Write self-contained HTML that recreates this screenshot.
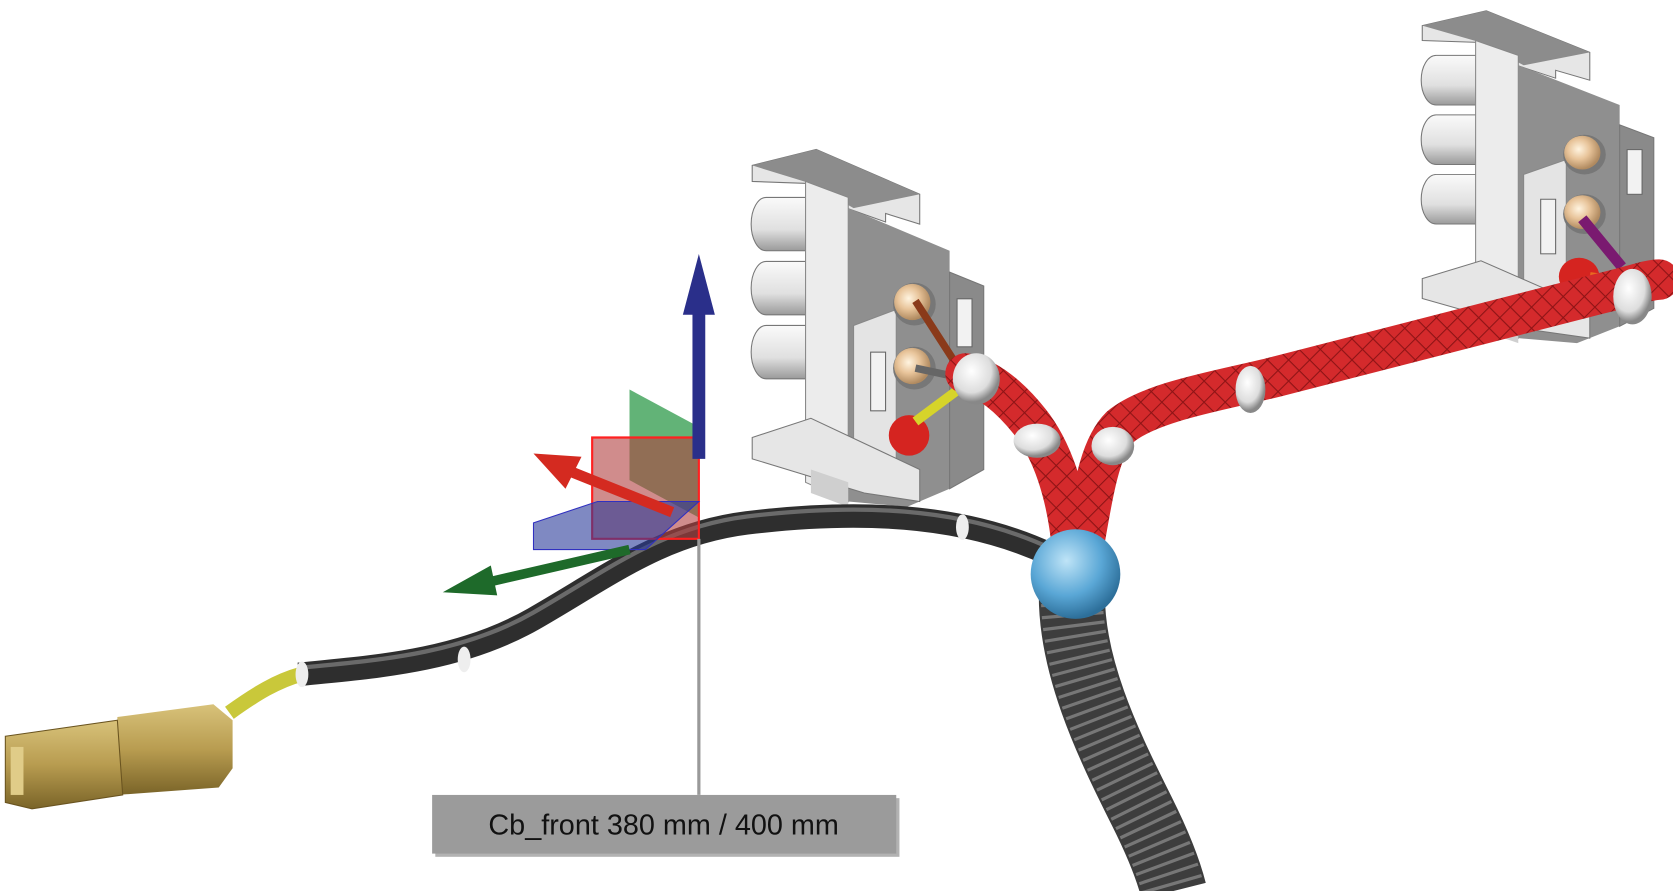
<!DOCTYPE html>
<html><head><meta charset="utf-8"><style>
html,body{margin:0;padding:0;background:#fff;width:1673px;height:891px;overflow:hidden}
svg{display:block}
</style></head><body>
<svg width="1673" height="891" viewBox="0 0 1568 835" xmlns="http://www.w3.org/2000/svg">
<defs>
<linearGradient id="cyl" x1="0" y1="0" x2="0" y2="1"><stop offset="0" stop-color="#fafafa"/><stop offset="0.6" stop-color="#e0e0e0"/><stop offset="1" stop-color="#9a9a9a"/></linearGradient>
<radialGradient id="pin" cx="0.4" cy="0.4" r="0.6"><stop offset="0" stop-color="#fff4e0"/><stop offset="0.5" stop-color="#e8c49a"/><stop offset="1" stop-color="#b08a60"/></radialGradient>
<radialGradient id="ball" cx="0.4" cy="0.35" r="0.65"><stop offset="0" stop-color="#bfe4f7"/><stop offset="0.6" stop-color="#5aa7d6"/><stop offset="1" stop-color="#2d6f9a"/></radialGradient>
<radialGradient id="ring" cx="0.4" cy="0.35" r="0.6"><stop offset="0" stop-color="#fff"/><stop offset="0.7" stop-color="#ddd"/><stop offset="1" stop-color="#888"/></radialGradient>
<linearGradient id="gold" x1="0" y1="0" x2="0" y2="1"><stop offset="0" stop-color="#d8c27a"/><stop offset="0.5" stop-color="#b89c50"/><stop offset="1" stop-color="#7a6428"/></linearGradient>
<pattern id="braid" width="14" height="14" patternUnits="userSpaceOnUse" patternTransform="rotate(45)"><rect width="14" height="14" fill="#d42a2c"/><path d="M0 0H14M0 0V14" stroke="#8e1416" stroke-width="2"/></pattern>
<g id="conn">
  <g fill="url(#cyl)" stroke="#777" stroke-width="1">
    <path d="M70 45 H18 a14 25 0 0 0 0 50 H70Z"/>
    <path d="M70 105 H18 a14 25 0 0 0 0 50 H70Z"/>
    <path d="M70 165 H18 a14 25 0 0 0 0 50 H70Z"/>
  </g>
  <polygon points="5,15 65,0 162,42 162,70 130,60 130,68 85,52 60,40 60,32 5,30" fill="#e6e6e6" stroke="#777"/>
  <polygon points="5,15 65,0 162,42 100,55 60,32" fill="#8c8c8c"/>
  <polygon points="55,30 95,45 95,330 55,312" fill="#ececec" stroke="#888"/>
  <polygon points="95,55 190,95 190,318 150,335 95,330" fill="#8f8f8f"/>
  <polygon points="190,115 222,128 222,300 190,318" fill="#8a8a8a" stroke="#777"/>
  <polygon points="100,165 140,150 140,310 100,318" fill="#e4e4e4" stroke="#888"/>
  <rect x="116" y="190" width="14" height="55" fill="#f2f2f2" stroke="#666"/>
  <rect x="197" y="140" width="14" height="45" fill="#f2f2f2" stroke="#666"/>
  <polygon points="5,270 60,252 162,300 162,330 110,322 5,290" fill="#e6e6e6" stroke="#777"/>
  <polygon points="60,300 95,312 95,335 60,322" fill="#cfcfcf"/>
  <circle cx="157" cy="145" r="20" fill="#777"/>
  <circle cx="155" cy="143" r="17" fill="url(#pin)"/>
  <circle cx="157" cy="205" r="20" fill="#777"/>
  <circle cx="155" cy="203" r="17" fill="url(#pin)"/>
  <circle cx="152" cy="268" r="19" fill="#d52420"/>
</g>
</defs>

<!-- left connector -->
<use href="#conn" transform="translate(700,140)"/>
<!-- right connector -->
<use href="#conn" transform="translate(1328,10) scale(1,0.93)"/>

<!-- wires into left connector -->
<path d="M858 282 L905 355" stroke="#8a3a1a" stroke-width="7"/>
<path d="M858 345 L905 355" stroke="#666" stroke-width="7"/>
<path d="M858 395 L905 360" stroke="#d6d42a" stroke-width="9"/>
<!-- wires into right connector -->
<path d="M1483 205 L1520 250" stroke="#7a1a70" stroke-width="10"/>
<path d="M1490 260 L1525 265" stroke="#e86a20" stroke-width="10"/>

<!-- corrugated tube -->
<path d="M1005 545 C1000 620 1040 700 1070 760 C1085 790 1095 815 1100 835" stroke="#3d3d3d" stroke-width="62" fill="none"/>
<path d="M1005 545 C1000 620 1040 700 1070 760 C1085 790 1095 815 1100 835" stroke="#777" stroke-width="58" fill="none" stroke-dasharray="3 7"/>

<!-- red braided branches -->
<path d="M1005 515 C1000 460 985 420 965 395 C945 370 925 355 905 350" stroke="url(#braid)" stroke-width="38" fill="none" stroke-linecap="round"/>
<path d="M1015 515 C1025 460 1030 420 1050 400 C1080 375 1150 365 1200 352 L1500 275 C1530 268 1545 262 1555 262" stroke="url(#braid)" stroke-width="38" fill="none" stroke-linecap="round"/>

<!-- rings -->
<ellipse cx="915" cy="355" rx="22" ry="24" fill="url(#ring)"/>
<ellipse cx="972" cy="413" rx="22" ry="16" fill="url(#ring)"/>
<ellipse cx="1043" cy="418" rx="20" ry="18" fill="url(#ring)"/>
<ellipse cx="1172" cy="365" rx="14" ry="22" fill="url(#ring)"/>
<ellipse cx="1530" cy="278" rx="18" ry="26" fill="url(#ring)"/>

<!-- black cable -->
<path d="M280 632 C350 625 430 620 500 580 C570 540 620 500 700 490 C800 478 900 480 985 520" stroke="#2e2e2e" stroke-width="22" fill="none"/>
<path d="M280 626 C350 619 430 614 500 574 C570 534 620 494 700 484 C800 472 900 474 985 514" stroke="#6a6a6a" stroke-width="4" fill="none"/>
<path d="M215 668 C240 650 260 638 282 632" stroke="#c9c83a" stroke-width="14" fill="none"/>
<ellipse cx="283" cy="632" rx="6" ry="12" fill="#eee"/>
<ellipse cx="435" cy="618" rx="6" ry="12" fill="#eee"/>
<ellipse cx="902" cy="494" rx="6" ry="12" fill="#eee"/>

<!-- blue ball -->
<circle cx="1008" cy="538" r="42" fill="url(#ball)"/>

<!-- gold connector -->
<polygon points="110,672 200,660 218,675 218,720 205,738 110,745" fill="url(#gold)"/>
<polygon points="5,690 110,675 115,745 30,758 5,752" fill="url(#gold)" stroke="#6a5420"/>
<rect x="10" y="700" width="12" height="45" fill="#e0cc88"/>

<!-- gizmo -->
<polygon points="590,365 655,400 655,485 590,450" fill="#2e9a4a" fill-opacity="0.75"/>
<polygon points="555,410 655,410 655,505 555,505" fill="#b04040" fill-opacity="0.6" stroke="#ff2020" stroke-width="2"/>
<polygon points="500,490 560,470 655,470 605,515 500,515" fill="#2a3a9a" fill-opacity="0.6" stroke="#3030c0"/>
<path d="M655 430 V290" stroke="#2a2f8a" stroke-width="12"/>
<polygon points="655,238 640,295 670,295" fill="#2a2f8a"/>
<path d="M630 480 L530 440" stroke="#d42a20" stroke-width="10"/>
<polygon points="500,425 545,428 530,458" fill="#d42a20"/>
<path d="M590 515 L460 545" stroke="#1e6a2a" stroke-width="9"/>
<polygon points="415,555 460,530 466,558" fill="#1e6a2a"/>

<!-- label -->
<line x1="655" y1="505" x2="655" y2="745" stroke="#999" stroke-width="3"/>
<rect x="408" y="748" width="435" height="55" fill="#666" opacity="0.5"/>
<rect x="405" y="745" width="435" height="55" fill="#9b9b9b"/>
<text x="622" y="782" font-family="Liberation Sans, sans-serif" font-size="27" text-anchor="middle" fill="#111">Cb_front 380 mm / 400 mm</text>
</svg>
</body></html>
